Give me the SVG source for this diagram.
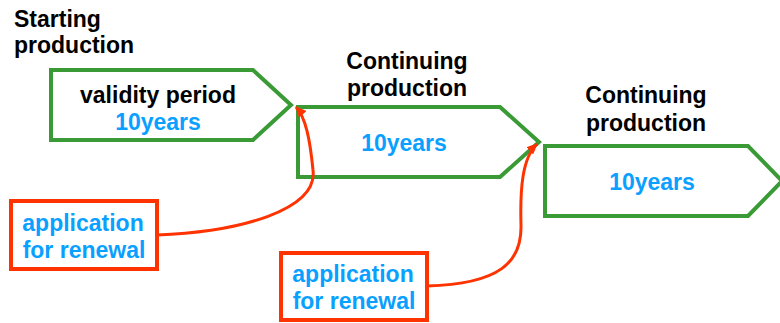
<svg xmlns="http://www.w3.org/2000/svg" width="780" height="323" viewBox="0 0 780 323">
<style>
.stage{fill:#fff;stroke:#3a9a35;stroke-width:4}
.app{fill:#fff;stroke:#ff3300;stroke-width:4}
.t{font-family:"Liberation Sans",Arial,sans-serif;font-weight:bold;font-size:23px}
.k{fill:#000}
.b{fill:#0aa0ff}
.conn{fill:none;stroke:#ff3300;stroke-width:3}
</style>
<defs>
<marker id="ah" markerWidth="12" markerHeight="10" refX="10" refY="5" orient="auto" markerUnits="userSpaceOnUse">
<path d="M0,0 L11,5 L0,10 Z" fill="#ff3300"/>
</marker>
</defs>
<g id="label-start">
<text class="t k" x="14" y="27">Starting</text>
<text class="t k" x="14" y="53">production</text>
</g>
<g id="stage1">
<polygon class="stage" points="51,70 253,70 291,105 253,140 51,140"/>
<text class="t k" x="158" y="103" text-anchor="middle">validity period</text>
<text class="t b" x="158" y="130" text-anchor="middle">10years</text>
</g>
<g id="stage2">
<text class="t k" x="407" y="69" text-anchor="middle">Continuing</text>
<text class="t k" x="407" y="96" text-anchor="middle">production</text>
<polygon class="stage" points="298,107 500,107 539,142 500,177 298,177"/>
<text class="t b" x="404" y="151" text-anchor="middle">10years</text>
</g>
<g id="stage3">
<text class="t k" x="646" y="103" text-anchor="middle">Continuing</text>
<text class="t k" x="646" y="131" text-anchor="middle">production</text>
<polygon class="stage" points="545,146 748,146 782,181 748,216 545,216"/>
<text class="t b" x="652" y="190" text-anchor="middle">10years</text>
</g>
<g id="app1">
<rect class="app" x="11" y="201" width="146" height="68"/>
<text class="t b" x="83" y="231" text-anchor="middle">application</text>
<text class="t b" x="84" y="258" text-anchor="middle">for renewal</text>
</g>
<g id="app2">
<rect class="app" x="281" y="253" width="146" height="67"/>
<text class="t b" x="353" y="282" text-anchor="middle">application</text>
<text class="t b" x="354" y="309" text-anchor="middle">for renewal</text>
</g>
<g id="connectors">
<path class="conn" d="M157,235 C240,232 318,210 313,170 C310,140 306,118 296,107" marker-end="url(#ah)"/>
<path class="conn" d="M427,286 C500,284 522,262 521,225 C520,190 522,158 537,144" marker-end="url(#ah)"/>
</g>
</svg>
